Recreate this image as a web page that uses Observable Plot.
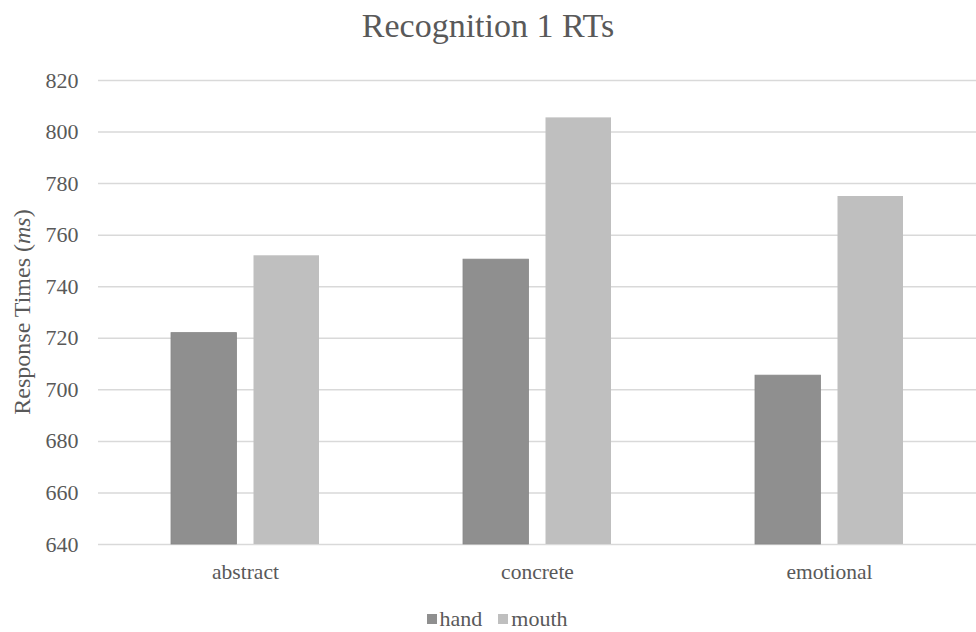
<!DOCTYPE html>
<html>
<head>
<meta charset="utf-8">
<script src="https://cdn.jsdelivr.net/npm/d3@7"></script>
<script src="https://cdn.jsdelivr.net/npm/@observablehq/plot@0.6"></script>
<style>
  body { margin: 0; background: #fff; font-family: "Liberation Serif", "Times New Roman", serif; color: #595959; overflow: hidden; }
  #title { height: 50px; line-height: 52px; text-align: center; font-size: 34px; }
  #chart { height: 558px; }
  #legend { display: flex; justify-content: center; align-items: center; gap: 16px; font-size: 22px; height: 22px; line-height: 22px; padding-left: 18px; }
  .sw { display: inline-block; width: 10px; height: 10px; margin-right: 3px; }
  .item { display: flex; align-items: center; }
</style>
</head>
<body>
<div id="title">Recognition 1 RTs</div>
<div id="chart"></div>
<div id="legend"></div>
<script>
const categories = ["abstract", "concrete", "emotional"];
const hand = [722, 750.5, 705.5];
const mouth = [752, 805.5, 775];
const series = ["hand", "mouth"];
const colors = ["#8f8f8f", "#bfbfbf"];
const yTicks = [640, 660, 680, 700, 720, 740, 760, 780, 800, 820];

const data = categories.map((c, i) => ({category: c, hand: hand[i], mouth: mouth[i]}));

const plot = Plot.plot({
  width: 976,
  height: 558,
  marginTop: 30,
  marginBottom: 64,
  marginLeft: 98,
  marginRight: 0,
  style: {fontFamily: "'Liberation Serif', 'Times New Roman', serif", fontSize: "21.5px", color: "#595959", background: "#fff", display: "block"},
  x: {domain: categories, paddingInner: 0.494, paddingOuter: 0.247, label: null},
  y: {domain: [640, 820], label: null},
  marks: [
    Plot.ruleY(yTicks, {stroke: "#d9d9d9", strokeWidth: 1.5}),
    Plot.barY(data, {x: "category", y1: 640, y2: "hand", fill: colors[0], stroke: "#878787", strokeWidth: 0.8, insetRight: 82.5}),
    Plot.barY(data, {x: "category", y1: 640, y2: "mouth", fill: colors[1], insetLeft: 82.5}),
    Plot.axisY({ticks: yTicks, tickSize: 0, tickPadding: 20, fill: "#595959", fontSize: 22}),
    Plot.axisX({tickSize: 0, tickPadding: 19, fill: "#595959", fontSize: 21.5})
  ]
});
document.getElementById("chart").appendChild(plot);

const svg = d3.select(plot);
const yl = svg.append("text")
  .attr("transform", "translate(24,262) rotate(-90)")
  .attr("text-anchor", "middle")
  .attr("dominant-baseline", "middle")
  .attr("fill", "#595959")
  .style("font-size", "24px");
yl.append("tspan").text("Response Times (");
yl.append("tspan").attr("font-style", "italic").text("ms");
yl.append("tspan").text(")");

const legend = d3.select("#legend");
series.forEach((s, i) => {
  const it = legend.append("div").attr("class", "item");
  it.append("span").attr("class", "sw").style("background", colors[i]);
  it.append("span").text(s);
});
</script>
</body>
</html>
